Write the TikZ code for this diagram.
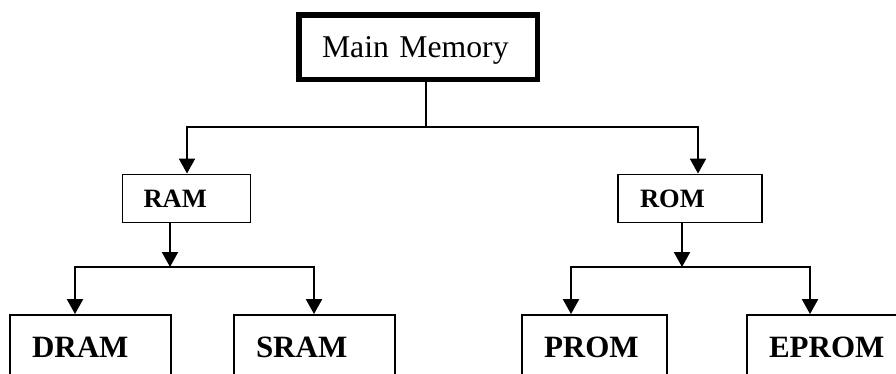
\documentclass[tikz,border=0pt]{standalone}
\usepackage{fontspec}
\setmainfont{Liberation Serif}
\usetikzlibrary{arrows.meta,calc}
\begin{document}
\begin{tikzpicture}[x=1pt,y=-1pt,
  box/.style={draw,line width=1.9pt,rectangle,align=left,inner ysep=0pt,text depth=0pt},
  conn/.style={line width=2.2pt},
  arr/.style={conn,-{Triangle[width=16pt,length=15pt]}},
  lvlone/.style={box,font=\fontsize{26.5}{30}\selectfont\bfseries,minimum height=48pt},
  lvltwo/.style={box,font=\fontsize{31}{36}\selectfont\bfseries,minimum height=64pt}]
\useasboundingbox (0,0) rectangle (896,373);
\clip (0,0) rectangle (896,373);
\fill[white] (0,0) rectangle (896,373);
% nodes
\node[box,line width=5.5pt,font=\fontsize{31.7}{38}\selectfont,minimum height=64.5pt,
      inner xsep=23.25pt,text width=192pt] (mm) at (418,47) {Main Memory};
\node[lvlone,inner xsep=21pt,text width=86pt] (ram) at (186.5,198.5) {RAM};
\node[lvlone,inner xsep=22pt,text width=100pt] (rom) at (690,198.5) {ROM};
\node[lvltwo,inner xsep=22pt,text width=117pt] (dram) at (90.5,347) {DRAM};
\node[lvltwo,inner xsep=22pt,text width=117pt] (sram) at (314.5,347) {SRAM};
\node[lvltwo,inner xsep=22pt,text width=101pt] (prom) at (594.5,347) {PROM};
\node[lvltwo,inner xsep=22pt,text width=117pt] (eprom) at (827.5,347) {EPROM};
% connectors
\coordinate (j1) at (426,127);
\coordinate (ja) at (187,127);
\coordinate (jb) at (698,127);
\draw[conn] (mm.south -| j1) -- (j1);
\draw[arr] (j1) -- (ja) -- (ram.north -| ja);
\draw[arr] (j1) -- (jb) -- (rom.north -| jb);
\coordinate (j2) at (170,267);
\coordinate (jd) at (75,267);
\coordinate (js) at (314,267);
\draw[arr] (ram.south -| j2) -- (j2);
\draw[arr] (j2) -- (jd) -- (dram.north -| jd);
\draw[arr] (j2) -- (js) -- (sram.north -| js);
\coordinate (j3) at (682,267);
\coordinate (jp) at (571,267);
\coordinate (je) at (810,267);
\draw[arr] (rom.south -| j3) -- (j3);
\draw[arr] (j3) -- (jp) -- (prom.north -| jp);
\draw[arr] (j3) -- (je) -- (eprom.north -| je);
\end{tikzpicture}
\end{document}
